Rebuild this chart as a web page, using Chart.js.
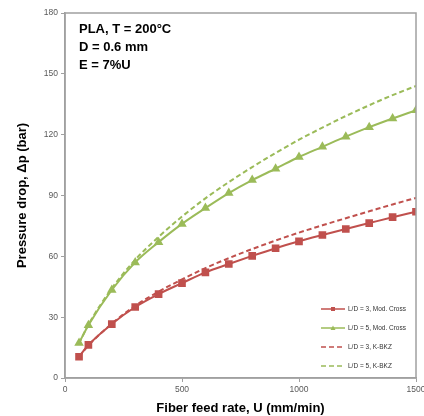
<!DOCTYPE html>
<html>
  <head>
    <title>
      Pressure drop vs fiber feed rate
    </title>
    <script src="https://cdn.jsdelivr.net/npm/chart.js"></script>
    <style>
      body { margin: 0; background: #fff; }
      #wrap { width: 424px; height: 416px; }
    </style>
  </head>
  <body>
    <div id="wrap">
      <canvas id="myChart" width="424" height="416"></canvas>
    </div>
    <script>
      'use strict'
      const feedRate = [60, 100, 200, 300, 400, 500, 600, 700, 800, 900, 1000, 1100, 1200, 1300, 1400, 1500];
      const ld3Cross = [10.5, 16.3, 26.6, 35, 41.4, 46.8, 52.1, 56.2, 60.2, 64, 67.4, 70.5, 73.5, 76.4, 79.3, 82];
      const ld5Cross = [17.3, 26, 43.4, 57, 67, 76, 83.8, 91.2, 97.6, 103.2, 109, 114, 119, 123.7, 128, 132];
      const ld3Kbkz = [10.5, 16, 26.8, 35.6, 42.6, 48.6, 54.2, 59.1, 63.6, 67.8, 71.7, 75.3, 78.8, 82.2, 85.6, 88.8];
      const ld5Kbkz = [17, 26.3, 44.2, 58.3, 69.6, 79.6, 88.6, 96.6, 104, 111, 117.5, 123.5, 129.2, 134.5, 139.5, 144];
      const yTicks = [0, 30, 60, 90, 120, 150, 180];
      const xTicks = [0, 500, 1000, 1500];
      const seriesNames = ['L/D = 3, Mod. Cross', 'L/D = 5, Mod. Cross', 'L/D = 3, K-BKZ', 'L/D = 5, K-BKZ'];
      const noteLines = ['PLA, T = 200°C', 'D = 0.6 mm', 'E = 7%U'];

      const red = '#C0504D';
      const green = '#9BBB59';

      function toPoints(values) {
        return values.map((v, i) => ({ x: feedRate[i], y: v }));
      }

      // frame, note text and legend drawn inside the plot box
      const extras = {
        id: 'extras',
        afterDatasetsDraw(chart) {
          const { ctx, chartArea } = chart;
          ctx.save();
          ctx.strokeStyle = '#A0A0A0';
          ctx.lineWidth = 1.5;
          ctx.strokeRect(chartArea.left, chartArea.top, chartArea.right - chartArea.left, chartArea.bottom - chartArea.top);

          ctx.fillStyle = '#000';
          ctx.font = 'bold 13px "Liberation Sans", Arial, sans-serif';
          ctx.textBaseline = 'alphabetic';
          noteLines.forEach((line, i) => {
            ctx.fillText(line, chartArea.left + 14, chartArea.top + 20 + i * 18);
          });

          ctx.font = '6.5px "Liberation Sans", Arial, sans-serif';
          ctx.textBaseline = 'middle';
          chart.data.datasets.forEach((ds, i) => {
            const y = chartArea.bottom - 69 + i * 19;
            const x0 = chartArea.right - 95;
            ctx.strokeStyle = ds.borderColor;
            ctx.lineWidth = 1.5;
            ctx.setLineDash(ds.borderDash || []);
            ctx.beginPath();
            ctx.moveTo(x0, y);
            ctx.lineTo(x0 + 24, y);
            ctx.stroke();
            ctx.setLineDash([]);
            if (ds.pointStyle === 'rect') {
              ctx.fillStyle = ds.borderColor;
              ctx.fillRect(x0 + 10, y - 2, 4, 4);
            } else if (ds.pointStyle === 'triangle') {
              ctx.fillStyle = ds.borderColor;
              ctx.beginPath();
              ctx.moveTo(x0 + 12, y - 2.5);
              ctx.lineTo(x0 + 14.5, y + 2);
              ctx.lineTo(x0 + 9.5, y + 2);
              ctx.closePath();
              ctx.fill();
            }
            ctx.fillStyle = '#333';
            ctx.fillText(ds.label, x0 + 27, y);
          });
          ctx.restore();
        }
      };

      const ctx = document.getElementById('myChart');
      const tickFont = { size: 8.5, family: '"Liberation Sans", Arial' };

      new Chart(ctx, {
        type: 'line',
        data: {
          datasets: [
            {
              label: seriesNames[0],
              data: toPoints(ld3Cross),
              borderColor: red,
              backgroundColor: red,
              borderWidth: 2,
              pointStyle: 'rect',
              pointRadius: 4,
              cubicInterpolationMode: 'monotone',
            },
            {
              label: seriesNames[1],
              data: toPoints(ld5Cross),
              borderColor: green,
              backgroundColor: green,
              borderWidth: 2,
              pointStyle: 'triangle',
              pointRadius: 3.5,
              cubicInterpolationMode: 'monotone',
            },
            {
              label: seriesNames[2],
              data: toPoints(ld3Kbkz),
              borderColor: red,
              borderWidth: 2,
              borderDash: [5, 3],
              pointRadius: 0,
              cubicInterpolationMode: 'monotone',
            },
            {
              label: seriesNames[3],
              data: toPoints(ld5Kbkz),
              borderColor: green,
              borderWidth: 2,
              borderDash: [5, 3],
              pointRadius: 0,
              cubicInterpolationMode: 'monotone',
            },
          ]
        },
        options: {
          responsive: false,
          animation: false,
          layout: { padding: { top: 13, right: 8, left: 15, bottom: 0 } },
          plugins: {
            legend: { display: false },
            tooltip: { enabled: false },
          },
          scales: {
            x: {
              type: 'linear',
              min: 0,
              max: 1500,
              afterBuildTicks: scale => { scale.ticks = xTicks.map(v => ({ value: v })); },
              afterFit: scale => { scale.height = 38; scale.paddingRight = 0; },
              grid: { display: true, drawOnChartArea: false, tickLength: 4, color: '#A0A0A0' },
              border: { color: '#A0A0A0', width: 1.5 },
              ticks: { color: '#595959', font: tickFont, padding: 3, maxRotation: 0, callback: v => String(v) },
              title: {
                display: true,
                text: 'Fiber feed rate, U (mm/min)',
                color: '#000',
                font: { size: 13, weight: 'bold', family: '"Liberation Sans", Arial' },
                padding: { top: 2, bottom: 0 },
              },
            },
            y: {
              min: 0,
              max: 180,
              afterBuildTicks: scale => { scale.ticks = yTicks.map(v => ({ value: v })); },
              afterFit: scale => { scale.width = 50; },
              grid: { display: true, drawOnChartArea: false, tickLength: 4, color: '#A0A0A0' },
              border: { color: '#A0A0A0', width: 1.5 },
              ticks: { color: '#595959', font: tickFont, padding: 3, callback: v => String(v) },
              title: {
                display: true,
                text: 'Pressure drop, Δp (bar)',
                color: '#000',
                font: { size: 13, weight: 'bold', family: '"Liberation Sans", Arial' },
                padding: { top: 0, bottom: 0 },
              },
            }
          }
        },
        plugins: [extras],
      });
    </script>
  </body>
</html>
